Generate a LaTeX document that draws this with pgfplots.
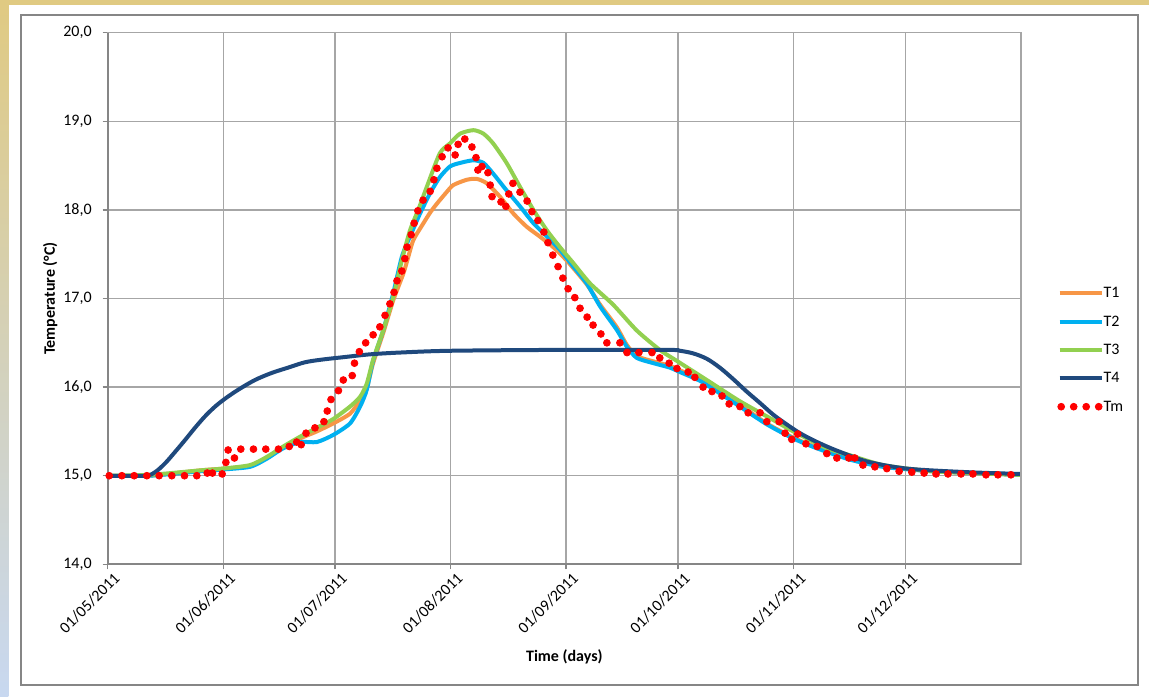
\documentclass[border=0pt]{standalone}
\usepackage{fontspec}
\setmainfont{Carlito}
\usepackage{pgfplots}
\pgfplotsset{compat=1.18}

\definecolor{tone}{RGB}{247,150,70}
\definecolor{ttwo}{RGB}{0,176,240}
\definecolor{tthree}{RGB}{146,208,80}
\definecolor{tfour}{RGB}{31,73,125}
\definecolor{gridc}{RGB}{166,166,166}
\definecolor{axc}{RGB}{134,134,134}
\definecolor{gold}{RGB}{224,202,130}
\definecolor{paleblue}{RGB}{200,216,240}

\pgfplotstableread{
d T
0 15.00
11.3 15.00
24.8 15.06
30.9 15.08
38.2 15.11
42.6 15.20
47.1 15.32
51.6 15.42
56.1 15.50
60.5 15.59
65.0 15.70
67.7 15.85
69.5 15.99
71.2 16.27
73.9 16.61
76.6 16.98
79.3 17.28
80.5 17.45
82.0 17.66
84.7 17.85
86.5 17.97
88.3 18.07
90.9 18.20
92.7 18.28
96.3 18.34
99.0 18.35
101.7 18.30
105.2 18.15
108.8 17.96
112.4 17.81
115.9 17.70
119.5 17.58
123.1 17.43
128.5 17.16
132.1 16.93
136.5 16.68
139.2 16.48
141.9 16.35
146.4 16.29
150.8 16.24
153.5 16.19
158.9 16.09
164.2 15.95
169.6 15.80
176.8 15.59
183.9 15.43
190.2 15.32
199.2 15.19
208.0 15.11
221.5 15.05
244.7 15.01
}\tone

\pgfplotstableread{
d T
0 15.00
11.3 15.00
24.8 15.05
30.9 15.07
38.2 15.10
42.6 15.19
47.1 15.31
51.6 15.38
56.1 15.38
60.5 15.46
65.0 15.59
67.7 15.78
69.5 15.97
71.2 16.30
73.9 16.64
76.6 17.06
78.9 17.47
81.1 17.70
83.8 17.96
86.5 18.19
89.1 18.37
91.8 18.49
94.5 18.53
98.1 18.56
100.8 18.53
103.4 18.41
107.0 18.22
110.6 18.04
114.2 17.85
117.8 17.70
121.3 17.55
124.9 17.36
128.5 17.17
132.1 16.91
136.5 16.65
139.2 16.46
141.9 16.33
146.4 16.27
150.8 16.22
153.5 16.17
158.9 16.07
164.2 15.93
169.6 15.78
176.8 15.58
183.9 15.42
190.2 15.31
199.2 15.18
208.0 15.10
221.5 15.05
244.7 15.01
}\ttwo

\pgfplotstableread{
d T
0 15.00
11.3 15.01
24.8 15.06
30.9 15.08
38.2 15.12
42.6 15.21
47.1 15.33
51.6 15.44
56.1 15.54
60.5 15.64
65.0 15.78
67.7 15.89
69.5 16.04
71.2 16.31
73.9 16.64
76.6 17.02
78.9 17.43
81.1 17.77
83.3 18.00
85.6 18.26
89.1 18.64
91.8 18.75
94.5 18.86
98.1 18.90
100.8 18.86
103.4 18.75
107.0 18.53
110.6 18.26
114.2 18.00
117.8 17.77
121.3 17.58
124.9 17.40
129.4 17.17
135.6 16.93
141.9 16.64
148.1 16.42
152.9 16.29
160.7 16.08
169.6 15.84
178.5 15.63
183.9 15.50
192.9 15.31
199.2 15.23
208.0 15.12
221.5 15.05
244.7 15.01
}\tthree

\pgfplotstableread{
d T
0 15.00
10.0 15.00
12.7 15.04
15.4 15.14
18.1 15.27
20.7 15.40
23.4 15.54
26.1 15.67
28.8 15.78
31.5 15.87
35.0 15.97
39.5 16.08
44.0 16.16
48.4 16.22
52.9 16.28
57.4 16.31
63.7 16.34
70.4 16.37
78.4 16.39
91.8 16.41
121.3 16.42
150.0 16.42
153.5 16.41
157.1 16.38
160.7 16.32
164.2 16.22
167.8 16.09
171.4 15.95
175.0 15.82
178.5 15.69
182.1 15.58
185.7 15.48
189.3 15.40
192.9 15.33
196.4 15.27
203.7 15.16
214.4 15.08
230.5 15.04
244.7 15.02
}\tfour

\pgfplotstableread{
d T
0.4 15.00
3.8 15.00
7.1 15.00
10.5 15.00
13.8 15.00
17.2 15.00
20.6 15.00
23.9 15.00
26.7 15.03
28.1 15.03
30.7 15.02
31.7 15.15
32.3 15.29
34.0 15.20
35.7 15.30
39.1 15.30
42.4 15.30
45.8 15.30
48.7 15.33
50.7 15.38
51.9 15.35
53.2 15.48
55.6 15.54
58.0 15.61
58.9 15.73
59.9 15.86
61.9 15.96
63.2 16.08
65.6 16.13
66.2 16.27
67.5 16.40
69.2 16.50
71.2 16.59
73.0 16.68
74.4 16.81
75.7 16.94
76.8 17.07
77.6 17.20
78.9 17.31
79.7 17.45
80.3 17.58
81.4 17.72
82.2 17.85
83.2 17.99
84.6 18.11
86.5 18.21
87.5 18.34
88.3 18.47
89.7 18.60
91.3 18.70
93.2 18.62
94.0 18.74
95.8 18.80
97.7 18.71
98.8 18.59
99.3 18.45
100.4 18.49
102.0 18.42
102.6 18.28
103.1 18.15
105.5 18.09
106.8 18.04
107.6 18.18
108.7 18.30
110.6 18.20
112.5 18.10
113.8 17.98
115.4 17.88
117.0 17.75
118.1 17.63
119.4 17.49
120.8 17.36
122.1 17.23
123.5 17.11
125.3 17.01
126.7 16.89
128.6 16.79
130.2 16.70
132.3 16.60
133.9 16.50
137.4 16.50
139.3 16.39
142.5 16.39
146.0 16.39
148.1 16.33
150.6 16.27
152.7 16.21
155.7 16.17
157.5 16.11
159.7 16.00
162.1 15.95
164.8 15.90
166.7 15.81
169.6 15.78
171.8 15.71
175.0 15.71
176.8 15.61
180.1 15.61
181.7 15.48
183.5 15.41
185.1 15.47
187.3 15.36
190.3 15.33
192.9 15.25
195.6 15.20
198.8 15.20
200.4 15.20
202.6 15.12
205.8 15.10
209.0 15.08
212.3 15.05
215.7 15.04
219.0 15.03
222.2 15.02
225.4 15.02
228.9 15.02
232.1 15.02
235.6 15.01
238.8 15.01
242.3 15.01
}\tm

\begin{document}
\begin{tikzpicture}[x=1bp,y=1bp]
\path[use as bounding box] (0,0) rectangle (574.5,348);
\fill[white] (0,0) rectangle (574.5,348);
\shade[top color=gold, bottom color=paleblue] (0,0) rectangle (4.2,348);
\fill[gold] (0,345.5) rectangle (574.5,348);
\draw[axc, line width=0.75bp] (10.5,5.5) rectangle (569,340.5);

\begin{axis}[
  at={(53.85bp,65.85bp)}, anchor=south west,
  scale only axis,
  width=456.65bp, height=265.8bp,
  xmin=0, xmax=245, ymin=14, ymax=20,
  axis line style={draw=gridc, line width=0.75bp},
  xtick={0,31,61,92,123,153,184,214},
  xticklabels={01/05/2011,01/06/2011,01/07/2011,01/08/2011,01/09/2011,01/10/2011,01/11/2011,01/12/2011},
  ytick={14,15,...,20},
  xtick pos=lower, ytick pos=left,
  tick align=outside,
  major tick length=2.5bp,
  tick style={axc, line width=0.75bp},
  grid=major,
  grid style={gridc, line width=0.75bp},
  tick label style={font=\fontsize{8bp}{9.6bp}\selectfont, text=black},
  yticklabel style={xshift=-2bp, /pgf/number format/.cd, fixed, fixed zerofill, precision=1, use comma, assume math mode=true},
  xticklabel style={rotate=45, anchor=east, xshift=4.5bp, yshift=-5.5bp},
  every axis x label/.style={at={(rel axis cs:0.5,-0.174)}, anchor=center},
  every axis y label/.style={at={(rel axis cs:-0.063,0.5)}, rotate=90, anchor=center},
  label style={font=\fontsize{8bp}{9.6bp}\selectfont\bfseries},
  xlabel={Time (days)},
  ylabel={Temperature (°C)},
  legend style={at={(rel axis cs:1.0394,0.525)}, anchor=north west, draw=none, fill=none,
    font=\fontsize{8bp}{9.6bp}\selectfont, inner sep=0pt, row sep=6.7bp,
    nodes={inner sep=0bp, text height=6bp, text depth=1.5bp}},
  legend cell align=left,
  legend image code/.code={\draw[#1, line width=2bp] (0bp,0bp) -- (21bp,0bp);},
  clip=false,
]
\addplot[tone, line width=2bp, smooth, tension=0.4] table[x=d, y=T] {\tone};
\addlegendentry{T1}
\addplot[ttwo, line width=2bp, smooth, tension=0.4] table[x=d, y=T] {\ttwo};
\addlegendentry{T2}
\addplot[tthree, line width=2bp, smooth, tension=0.4] table[x=d, y=T] {\tthree};
\addlegendentry{T3}
\addplot[tfour, line width=2bp, smooth, tension=0.5] table[x=d, y=T] {\tfour};
\addlegendentry{T4}
\addplot[only marks, mark=*, mark size=1.7bp, red, mark options={draw=red, fill=red},
  legend image code/.code={\foreach \i in {0.8,7.05,13.3,19.55} {\fill[red] (\i bp,0bp) circle (1.7bp);}}]
  table[x=d, y=T] {\tm};
\addlegendentry{Tm}
\draw[axc, line width=1bp] (rel axis cs:0,1) -- (rel axis cs:0,0) -- (rel axis cs:1,0);
\end{axis}
\end{tikzpicture}
\end{document}
